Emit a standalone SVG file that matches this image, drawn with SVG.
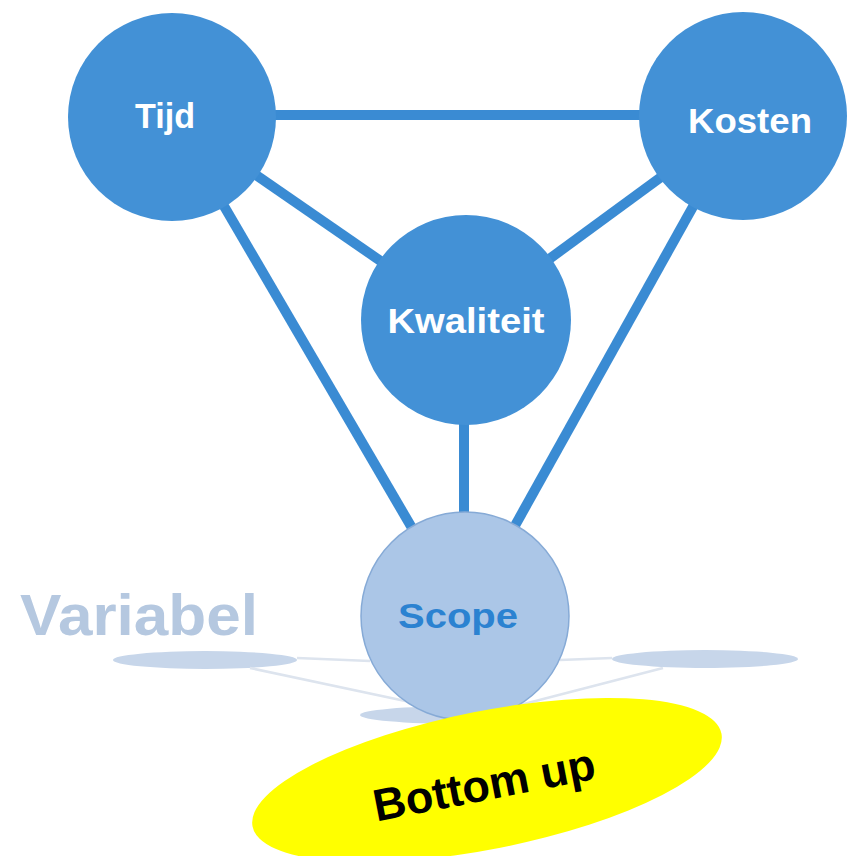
<svg xmlns="http://www.w3.org/2000/svg" width="849" height="856" viewBox="0 0 849 856">
<style>
.node{fill:#4391d6}
.lbl{font-family:"Liberation Sans",Arial,sans-serif;font-weight:bold;font-size:35px;fill:#ffffff;text-anchor:middle}
.edge{stroke:#3a8bd3;stroke-width:10;stroke-linecap:butt;fill:none}
.sh{fill:#c7d6ea}
.shl{stroke:#dde4ee;stroke-width:2.5;fill:none}
</style>
<rect width="849" height="856" fill="#ffffff"/>
<g id="shadows">
<ellipse class="sh" cx="205" cy="660" rx="92" ry="9"/>
<ellipse class="sh" cx="705" cy="659" rx="93" ry="9"/>
<ellipse class="sh" cx="460" cy="715" rx="100" ry="9"/>
<line class="shl" x1="297" y1="658" x2="370" y2="661"/>
<line class="shl" x1="250" y1="668" x2="410" y2="702"/>
<line class="shl" x1="612" y1="658" x2="560" y2="660"/>
<line class="shl" x1="663" y1="668" x2="520" y2="705"/>
</g>
<text id="variabel" x="20" y="635" textLength="238" lengthAdjust="spacingAndGlyphs" style="font-family:'Liberation Sans',Arial,sans-serif;font-weight:bold;font-size:57px;fill:#b5c8e0">Variabel</text>
<g id="connectors">
<line class="edge" x1="172" y1="115" x2="743" y2="115"/>
<line class="edge" x1="172" y1="117" x2="466" y2="320"/>
<line class="edge" x1="743" y1="117" x2="466" y2="320"/>
<line class="edge" x1="172" y1="117" x2="464" y2="617"/>
<line class="edge" x1="743" y1="117" x2="464" y2="617"/>
<line class="edge" x1="464" y1="320" x2="464" y2="617"/>
</g>
<g id="tijd">
<circle class="node" cx="172" cy="117" r="104"/>
<text class="lbl" x="165" y="128" textLength="60" lengthAdjust="spacingAndGlyphs">Tijd</text>
</g>
<g id="kosten">
<circle class="node" cx="743" cy="116" r="104"/>
<text class="lbl" x="750" y="133" textLength="124" lengthAdjust="spacingAndGlyphs">Kosten</text>
</g>
<g id="kwaliteit">
<circle class="node" cx="466" cy="320" r="105"/>
<text class="lbl" x="466" y="333" textLength="157" lengthAdjust="spacingAndGlyphs">Kwaliteit</text>
</g>
<g id="scope">
<circle cx="465" cy="616" r="104" fill="#abc6e7" stroke="#86aad6" stroke-width="1.5"/>
<text class="lbl" x="458" y="628" textLength="120" lengthAdjust="spacingAndGlyphs" style="fill:#2b82d1">Scope</text>
</g>
<g id="bottomup">
<ellipse cx="487" cy="780" rx="239" ry="69" transform="rotate(-11.2 487 780)" fill="#ffff00"/>
<text x="487" y="800" transform="rotate(-11 487 800)" style="font-family:'Liberation Sans',Arial,sans-serif;font-weight:bold;font-size:45px;fill:#000000;text-anchor:middle">Bottom up</text>
</g>
</svg>
